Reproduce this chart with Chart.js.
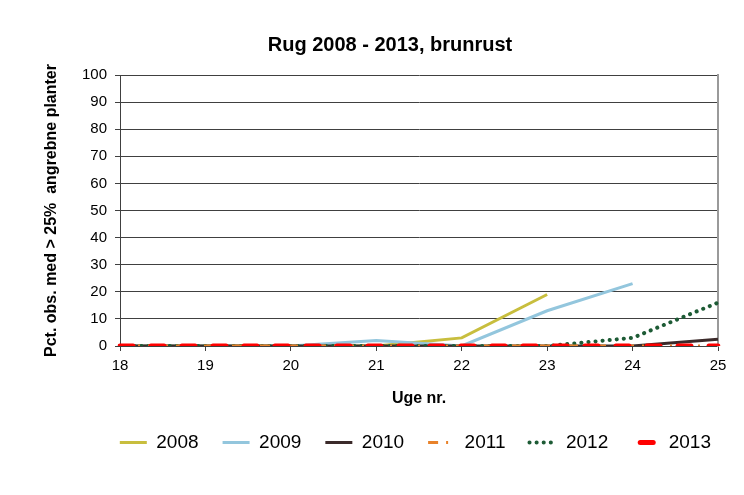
<!DOCTYPE html>
<html>
<head>
<meta charset="utf-8">
<title>Rug 2008 - 2013, brunrust</title>
<script src="https://cdn.jsdelivr.net/npm/chart.js@4/dist/chart.umd.min.js"></script>
<style>
    body { margin: 0; background: #fff; }
    #wrap { width: 744px; height: 495px; }
</style>
</head>
<body>
<div id="wrap"><canvas id="chart" width="744" height="495"></canvas></div>
<script>
// Uge nr. (week numbers)
const weeks = ['18', '19', '20', '21', '22', '23', '24', '25'];
const yTicks = [0, 10, 20, 30, 40, 50, 60, 70, 80, 90, 100];

// Pct. obs. med > 25% angrebne planter, per year
const years = ['2008', '2009', '2010', '2011', '2012', '2013'];
const y2008 = [0, 0, 0, 0, 3, 19, null, null];
const y2009 = [0, 0, 0, 2, 0, 13, 23, null];
const y2010 = [0, 0, 0, 0, 0, 0, 0, 2.5];
const y2011 = [0, 0, 0, 0, 0, 0, 0, 0];
const y2012 = [0, 0, 0, 0, 0, 0, 3, 16];
const y2013 = [0, 0, 0, 0, 0, 0, 0, 0];

const FONT = '"Liberation Sans", Arial, sans-serif';
const GRID = '#404040';

function makeSeries(label, data, color, width, dash, cap, order) {
    return {
        label: label,
        data: data,
        borderColor: color,
        backgroundColor: color,
        borderWidth: width,
        borderDash: dash,
        borderCapStyle: cap,
        pointRadius: 0,
        pointHoverRadius: 0,
        tension: 0,
        fill: false,
        spanGaps: false,
        order: order
    };
}

const datasets = [
    makeSeries(years[0], y2008, '#C8BE3E', 3, [], 'butt', 5),
    makeSeries(years[1], y2009, '#93C6DD', 3, [], 'butt', 4),
    makeSeries(years[2], y2010, '#3B2A2A', 3, [], 'butt', 3),
    makeSeries(years[3], y2011, '#E8822A', 3, [10, 8, 2, 8], 'butt', 1),
    makeSeries(years[4], y2012, '#1D5B35', 4, [0.1, 7], 'round', 2),
    makeSeries(years[5], y2013, '#FF0000', 5, [13, 18], 'round', 0)
];

// legend entries drawn as short line samples with the series' own dash
function legendLabels(chart) {
    return chart.data.datasets.map((ds, i) => ({
        text: ds.label,
        datasetIndex: i,
        fillStyle: ds.borderColor,
        strokeStyle: ds.borderColor,
        lineWidth: ds.borderWidth,
        lineDash: ds.borderDash,
        lineCap: ds.borderCapStyle,
        lineDashOffset: i === 5 ? -8 : 0,
        pointStyle: 'line',
        fontColor: '#000',
        hidden: false
    }));
}

new Chart(document.getElementById('chart'), {
    type: 'line',
    data: { labels: weeks, datasets: datasets },
    options: {
        responsive: false,
        animation: false,
        layout: { padding: { left: 45, right: 9, top: 20, bottom: 33 } },
        plugins: {
            title: {
                display: true,
                text: 'Rug 2008 - 2013, brunrust',
                color: '#000',
                font: { family: FONT, size: 20, weight: 'bold' },
                padding: { top: 13, bottom: 18 }
            },
            legend: {
                position: 'bottom',
                align: 'end',
                labels: {
                    usePointStyle: true,
                    pointStyleWidth: 27,
                    padding: 24,
                    color: '#000',
                    font: { family: FONT, size: 19 },
                    generateLabels: legendLabels
                }
            },
            tooltip: { enabled: false }
        },
        scales: {
            x: {
                type: 'category',
                offset: false,
                afterFit: (scale) => { scale.height = 63; },
                grid: { drawOnChartArea: false, drawTicks: true, tickLength: 5, color: GRID, offset: false },
                border: { color: GRID, width: 1 },
                ticks: { color: '#000', padding: 6, font: { family: FONT, size: 15 }, maxRotation: 0, autoSkip: false },
                title: {
                    display: true,
                    text: 'Uge nr.',
                    color: '#000',
                    font: { family: FONT, size: 16, weight: 'bold' },
                    padding: { top: 0, bottom: 1 }
                }
            },
            y: {
                min: yTicks[0],
                max: yTicks[yTicks.length - 1],
                afterFit: (scale) => { scale.width = 75; },
                afterBuildTicks: (scale) => { scale.ticks = yTicks.map(v => ({ value: v })); },
                grid: { color: GRID, lineWidth: 1, tickLength: 5 },
                border: { color: GRID, width: 1 },
                ticks: { color: '#000', padding: 8, font: { family: FONT, size: 15 } },
                title: {
                    display: true,
                    text: 'Pct. obs. med > 25%  angrebne planter',
                    color: '#000',
                    font: { family: FONT, size: 16, weight: 'bold' },
                    padding: { top: -3, bottom: 0 }
                }
            },
            y2: {
                position: 'right',
                min: 0,
                max: 100,
                afterFit: (scale) => { scale.width = 17; },
                grid: { display: false },
                border: { color: '#9a9a9a', width: 2 },
                ticks: { display: false }
            }
        }
    }
});
</script>
</body>
</html>
